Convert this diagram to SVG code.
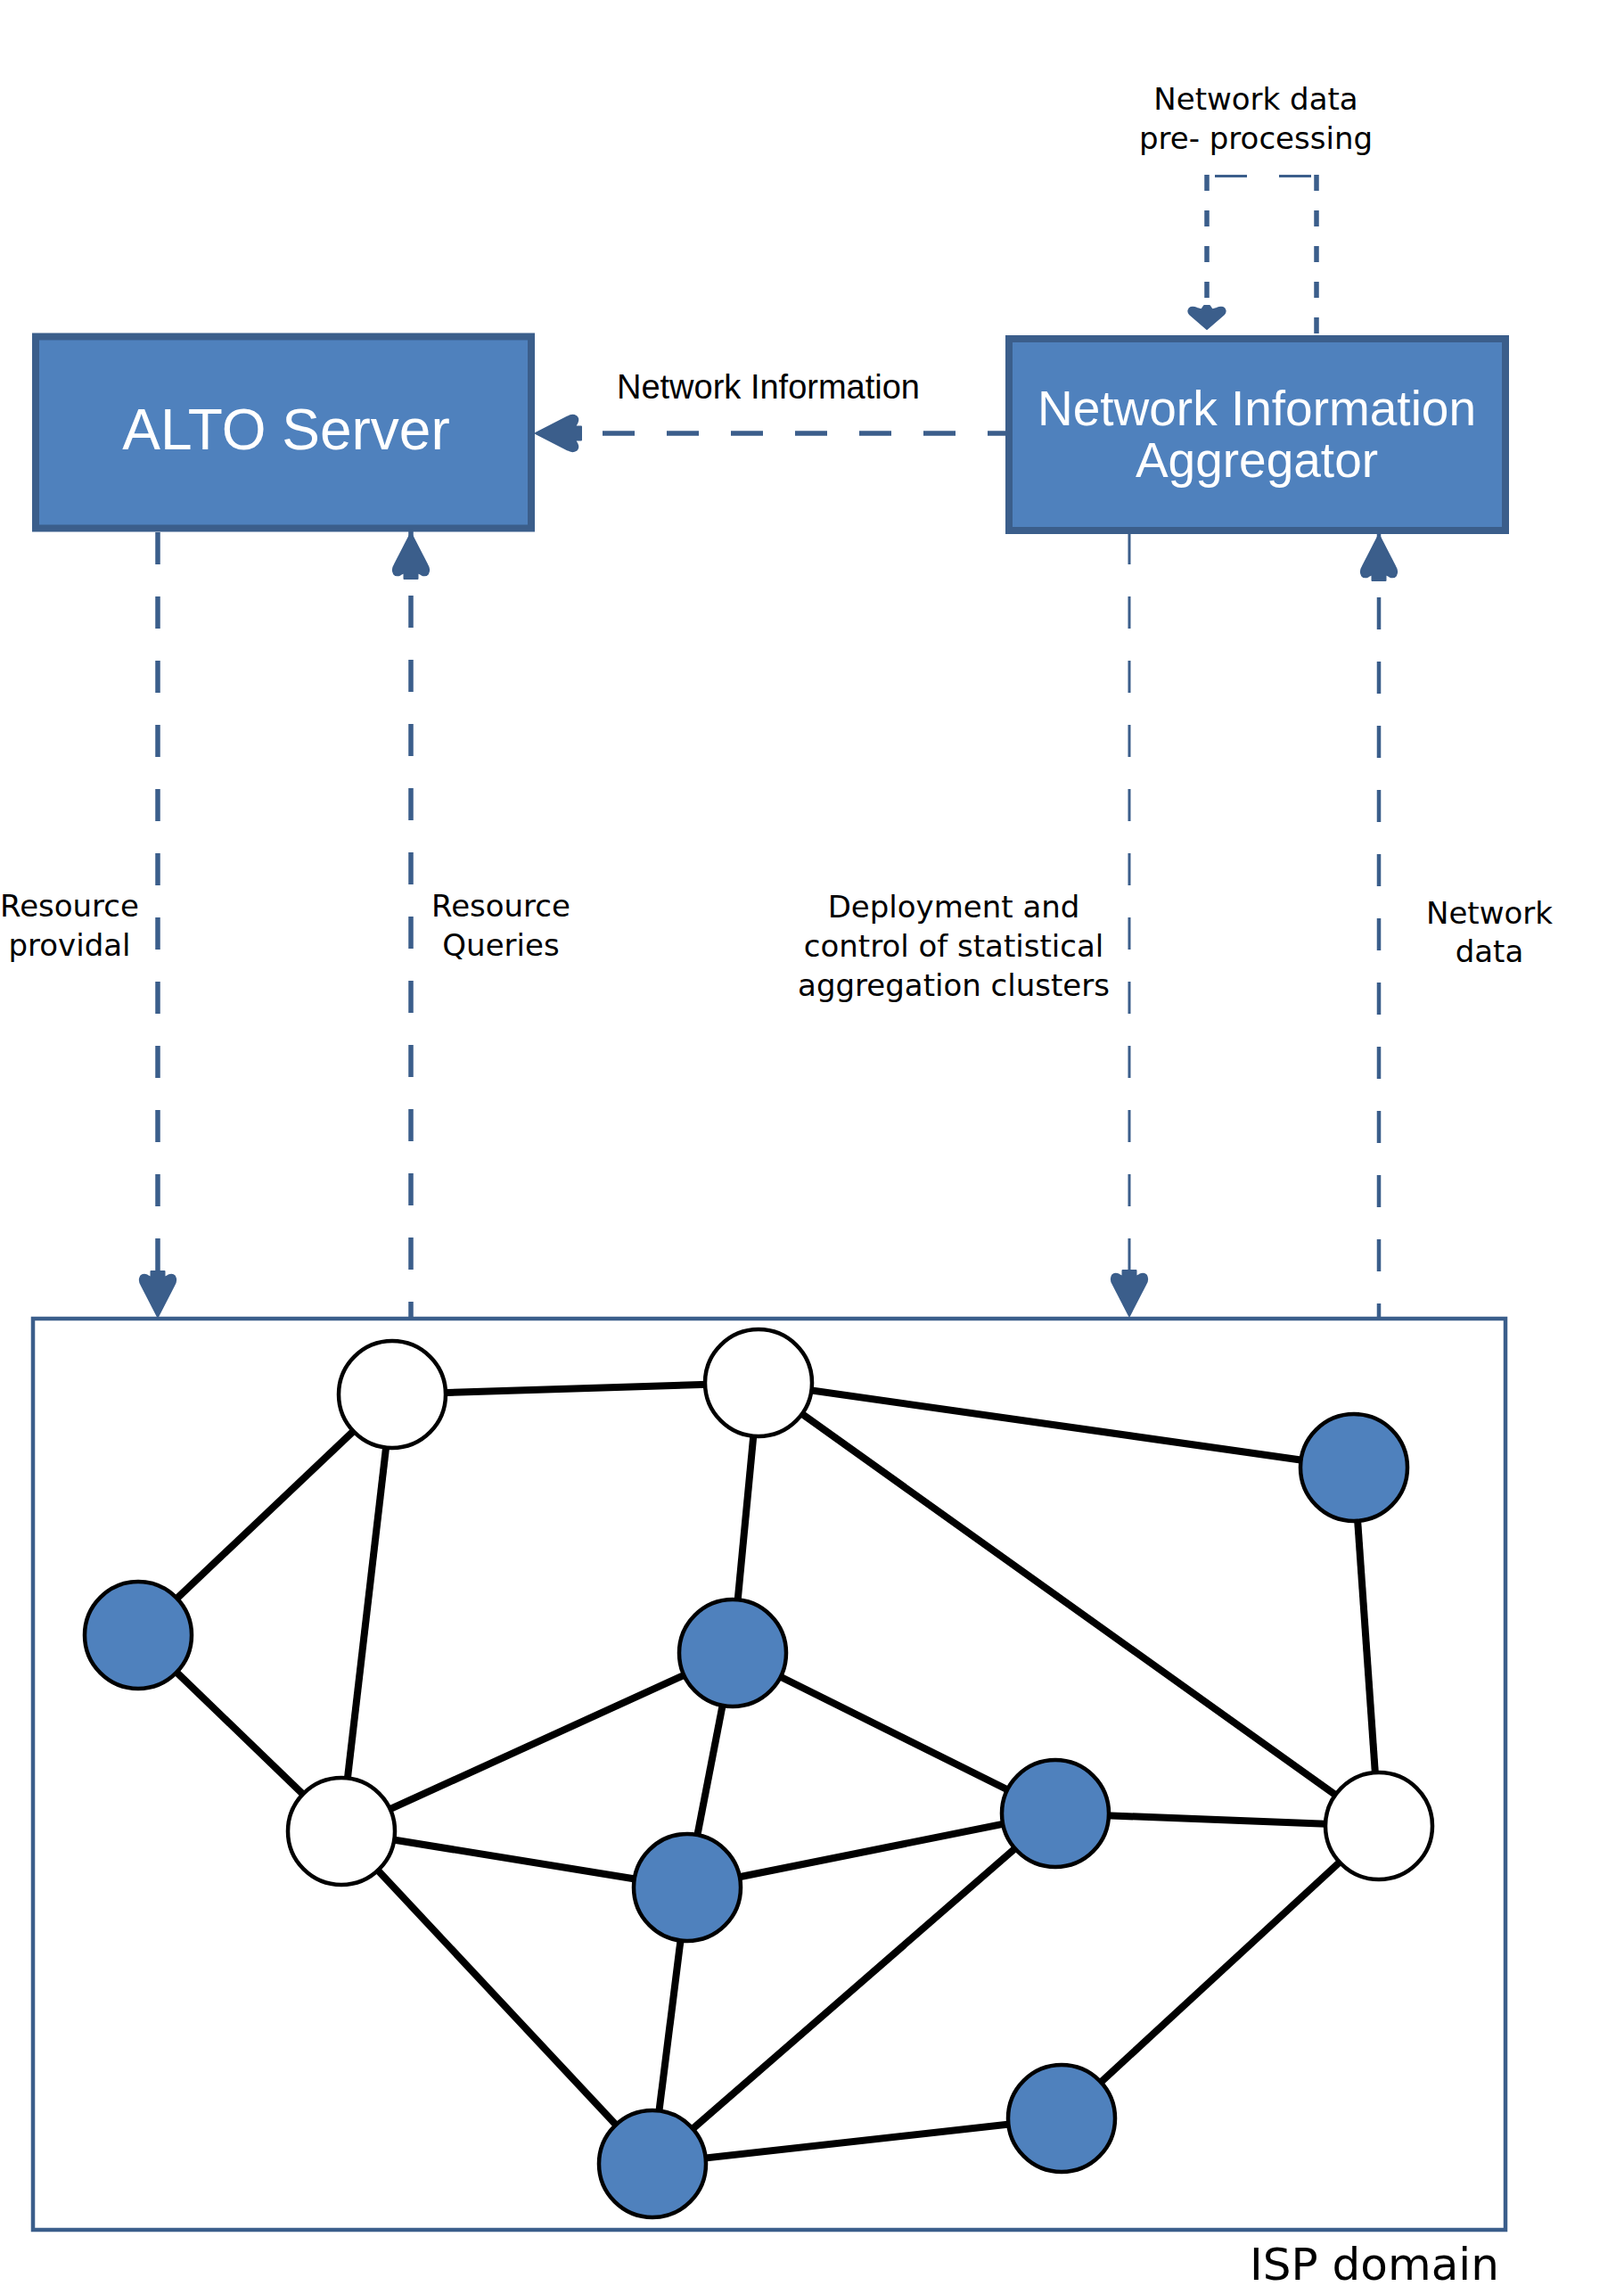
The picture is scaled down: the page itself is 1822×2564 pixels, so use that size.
<svg xmlns="http://www.w3.org/2000/svg" width="1822" height="2564" viewBox="0 0 1822 2564">
<style>
.box{fill:#4f81bd;stroke:#3b5e8b;stroke-width:8}
.boxt{font-family:"Liberation Sans",Arial,sans-serif;fill:#fff;text-anchor:middle}
.lbl{font-family:"DejaVu Sans",Verdana,sans-serif;font-size:34px;fill:#000;text-anchor:middle}
.dash{fill:none;stroke:#3b5e8b;stroke-dasharray:36 36}
.edge{stroke:#000;stroke-width:8;fill:none}
.nb{fill:#4f81bd;stroke:#000;stroke-width:4.5}
.nw{fill:#fff;stroke:#000;stroke-width:4.5}
.arr{fill:#3b5e8b;stroke:#3b5e8b;stroke-width:2;stroke-linejoin:round}
</style>
<defs>
<path id="arrL" d="M0 0 L-36 -18.5 Q-41 -21.5 -45.5 -19 Q-48.5 -16.5 -46.5 -12 L-44 -7.5 L-51 -7.5 L-51 7.5 L-44 7.5 L-46.5 12 Q-48.5 16.5 -45.5 19 Q-41 21.5 -36 18.5 Z"/>
<path id="arrS" d="M0 0 L-16 -18.5 Q-19.5 -22 -23 -19.5 Q-25.5 -16.5 -23 -11 L-21.5 -6 L-26 -3 L-26 3 L-21.5 6 L-23 11 Q-25.5 16.5 -23 19.5 Q-19.5 22 -16 18.5 Z"/>
</defs>

<g id="isp-domain">
<rect x="37" y="1479" width="1652" height="1022" fill="none" stroke="#3b5e8b" stroke-width="4.5"/>
<text class="lbl" x="1542" y="2557" style="font-size:50px">ISP domain</text>
</g>

<g id="alto-server">
<rect class="box" x="40" y="377.5" width="556" height="215"/>
<text class="boxt" x="321" y="504" font-size="64">ALTO Server</text>
</g>

<g id="network-information-aggregator">
<rect class="box" x="1132" y="380" width="557" height="215"/>
<text class="boxt" x="1410" y="477" font-size="55">Network Information</text>
<text class="boxt" x="1410" y="535" font-size="55">Aggregator</text>
</g>

<g id="connectors">
<path class="dash" d="M1354 196 V347" stroke-width="5.5" style="stroke-dasharray:18 22"/>
<path class="dash" d="M1477 196 V376" stroke-width="5.5" style="stroke-dasharray:18 22"/>
<path class="dash" d="M1363 197.5 H1472" stroke-width="3"/>
<use href="#arrS" class="arr" transform="translate(1354,369) rotate(90)"/>
<path class="dash" d="M604 486 H1128" stroke-width="5.5"/>
<use href="#arrL" class="arr" transform="translate(601,486) rotate(180)"/>
<path class="dash" d="M177 597 V1440" stroke-width="5.5"/>
<use href="#arrL" class="arr" transform="translate(177,1477) rotate(90)"/>
<path class="dash" d="M461 596 V1477" stroke-width="5.5"/>
<use href="#arrL" class="arr" transform="translate(461,598) rotate(-90)"/>
<path class="dash" d="M1267 599 V1440" stroke-width="3" style="stroke-dashoffset:2"/>
<use href="#arrL" class="arr" transform="translate(1267,1476) rotate(90)"/>
<path class="dash" d="M1547 598 V1477" stroke-width="4.5"/>
<use href="#arrL" class="arr" transform="translate(1547,600) rotate(-90)"/>
</g>

<g id="labels">
<text class="lbl" x="1409" y="123">Network data</text>
<text class="lbl" x="1409" y="167">pre- processing</text>
<text x="862" y="447" font-family="Liberation Sans, Arial, sans-serif" font-size="38" text-anchor="middle">Network Information</text>
<text class="lbl" x="78" y="1028">Resource</text>
<text class="lbl" x="78" y="1072">providal</text>
<text class="lbl" x="562" y="1028">Resource</text>
<text class="lbl" x="562" y="1072">Queries</text>
<text class="lbl" x="1070" y="1029">Deployment and</text>
<text class="lbl" x="1070" y="1073">control of statistical</text>
<text class="lbl" x="1070" y="1117">aggregation clusters</text>
<text class="lbl" x="1671" y="1036">Network</text>
<text class="lbl" x="1671" y="1079">data</text>
</g>

<g id="links">
<path class="edge" d="M440 1564 L851 1551"/>
<path class="edge" d="M440 1564 L155 1834"/>
<path class="edge" d="M440 1564 L383 2054"/>
<path class="edge" d="M851 1551 L822 1854"/>
<path class="edge" d="M851 1551 L1519 1646"/>
<path class="edge" d="M851 1551 L1547 2048"/>
<path class="edge" d="M1519 1646 L1547 2048"/>
<path class="edge" d="M155 1834 L383 2054"/>
<path class="edge" d="M383 2054 L822 1854"/>
<path class="edge" d="M383 2054 L771 2117"/>
<path class="edge" d="M383 2054 L732 2427"/>
<path class="edge" d="M822 1854 L771 2117"/>
<path class="edge" d="M822 1854 L1184 2034"/>
<path class="edge" d="M771 2117 L1184 2034"/>
<path class="edge" d="M1184 2034 L1547 2048"/>
<path class="edge" d="M1184 2034 L732 2427"/>
<path class="edge" d="M771 2117 L732 2427"/>
<path class="edge" d="M732 2427 L1191 2376"/>
<path class="edge" d="M1191 2376 L1547 2048"/>
</g>

<g id="node-a"><circle class="nw" cx="440" cy="1564" r="60"/></g>
<g id="node-b"><circle class="nb" cx="155" cy="1834" r="60"/></g>
<g id="node-c"><circle class="nw" cx="851" cy="1551" r="60"/></g>
<g id="node-d"><circle class="nb" cx="1519" cy="1646" r="60"/></g>
<g id="node-e"><circle class="nb" cx="822" cy="1854" r="60"/></g>
<g id="node-f"><circle class="nw" cx="383" cy="2054" r="60"/></g>
<g id="node-g"><circle class="nb" cx="771" cy="2117" r="60"/></g>
<g id="node-h"><circle class="nb" cx="1184" cy="2034" r="60"/></g>
<g id="node-i"><circle class="nw" cx="1547" cy="2048" r="60"/></g>
<g id="node-j"><circle class="nb" cx="732" cy="2427" r="60"/></g>
<g id="node-k"><circle class="nb" cx="1191" cy="2376" r="60"/></g>
</svg>
